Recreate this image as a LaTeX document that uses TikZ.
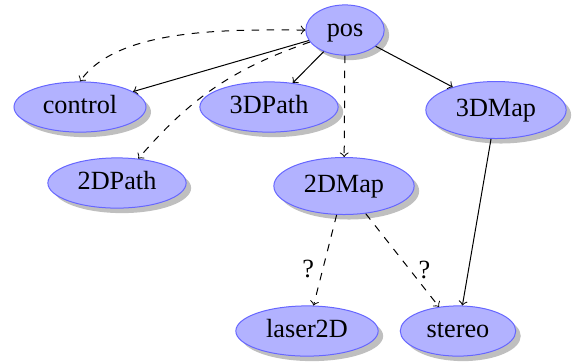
\documentclass[tikz,border=0pt]{standalone}
\usepackage{fontspec}
\setmainfont{Liberation Serif}
\usetikzlibrary{shapes.geometric, shadows}
\newcommand{\sx}{3.8pt}
\newcommand{\sy}{2.3pt}

\begin{document}
\begin{tikzpicture}[x=0.4pt, y=-0.4pt,
        state/.style={ellipse, draw=blue!60, fill=blue!30, font=\fontsize{10.5}{12}\selectfont,
            inner xsep=\sx, inner ysep=\sy, text height=7.3pt, text depth=2.3pt,
            drop shadow={opacity=0.5, shadow xshift=2pt, shadow yshift=-2pt}},
        bigstate/.style={state, minimum height=22.8pt},
        lbl/.style={font=\fontsize{10.5}{12}\selectfont}]

        \useasboundingbox (0, 0) rectangle (574, 363);

        \node[state] (pos) at (345, 30) {pos};
        \node[state] (control) at (80, 107) {control};
        \node[state] (path3d) at (269, 107) {3DPath};
        \node[bigstate] (map3d) at (496, 110) {3DMap};
        \node[state] (path2d) at (117, 183) {2DPath};
        \node[bigstate] (map2d) at (344, 186) {2DMap};
        \node[state] (laser) at (307, 331) {laser2D};
        \node[state] (stereo) at (458, 331) {stereo};

        \draw[->] (pos) -- (control);
        \draw[<->, dashed] (pos.west) to[out=180, in=55, looseness=0.75] (control.north);
        \draw[->, dashed] (pos) to[bend right=15] (path2d);
        \draw[->] (pos) -- (path3d);
        \draw[->, dashed] (pos) -- (map2d);
        \draw[->] (pos) -- (map3d);
        \draw[->] (map3d) -- (stereo);

        \draw[->, dashed] (map2d) -- node[lbl, pos=0.6, left] {?} (laser);
        \draw[->, dashed] (map2d) -- node[lbl, pos=0.6, right] {?} (stereo);

    \end{tikzpicture}
\end{document}
